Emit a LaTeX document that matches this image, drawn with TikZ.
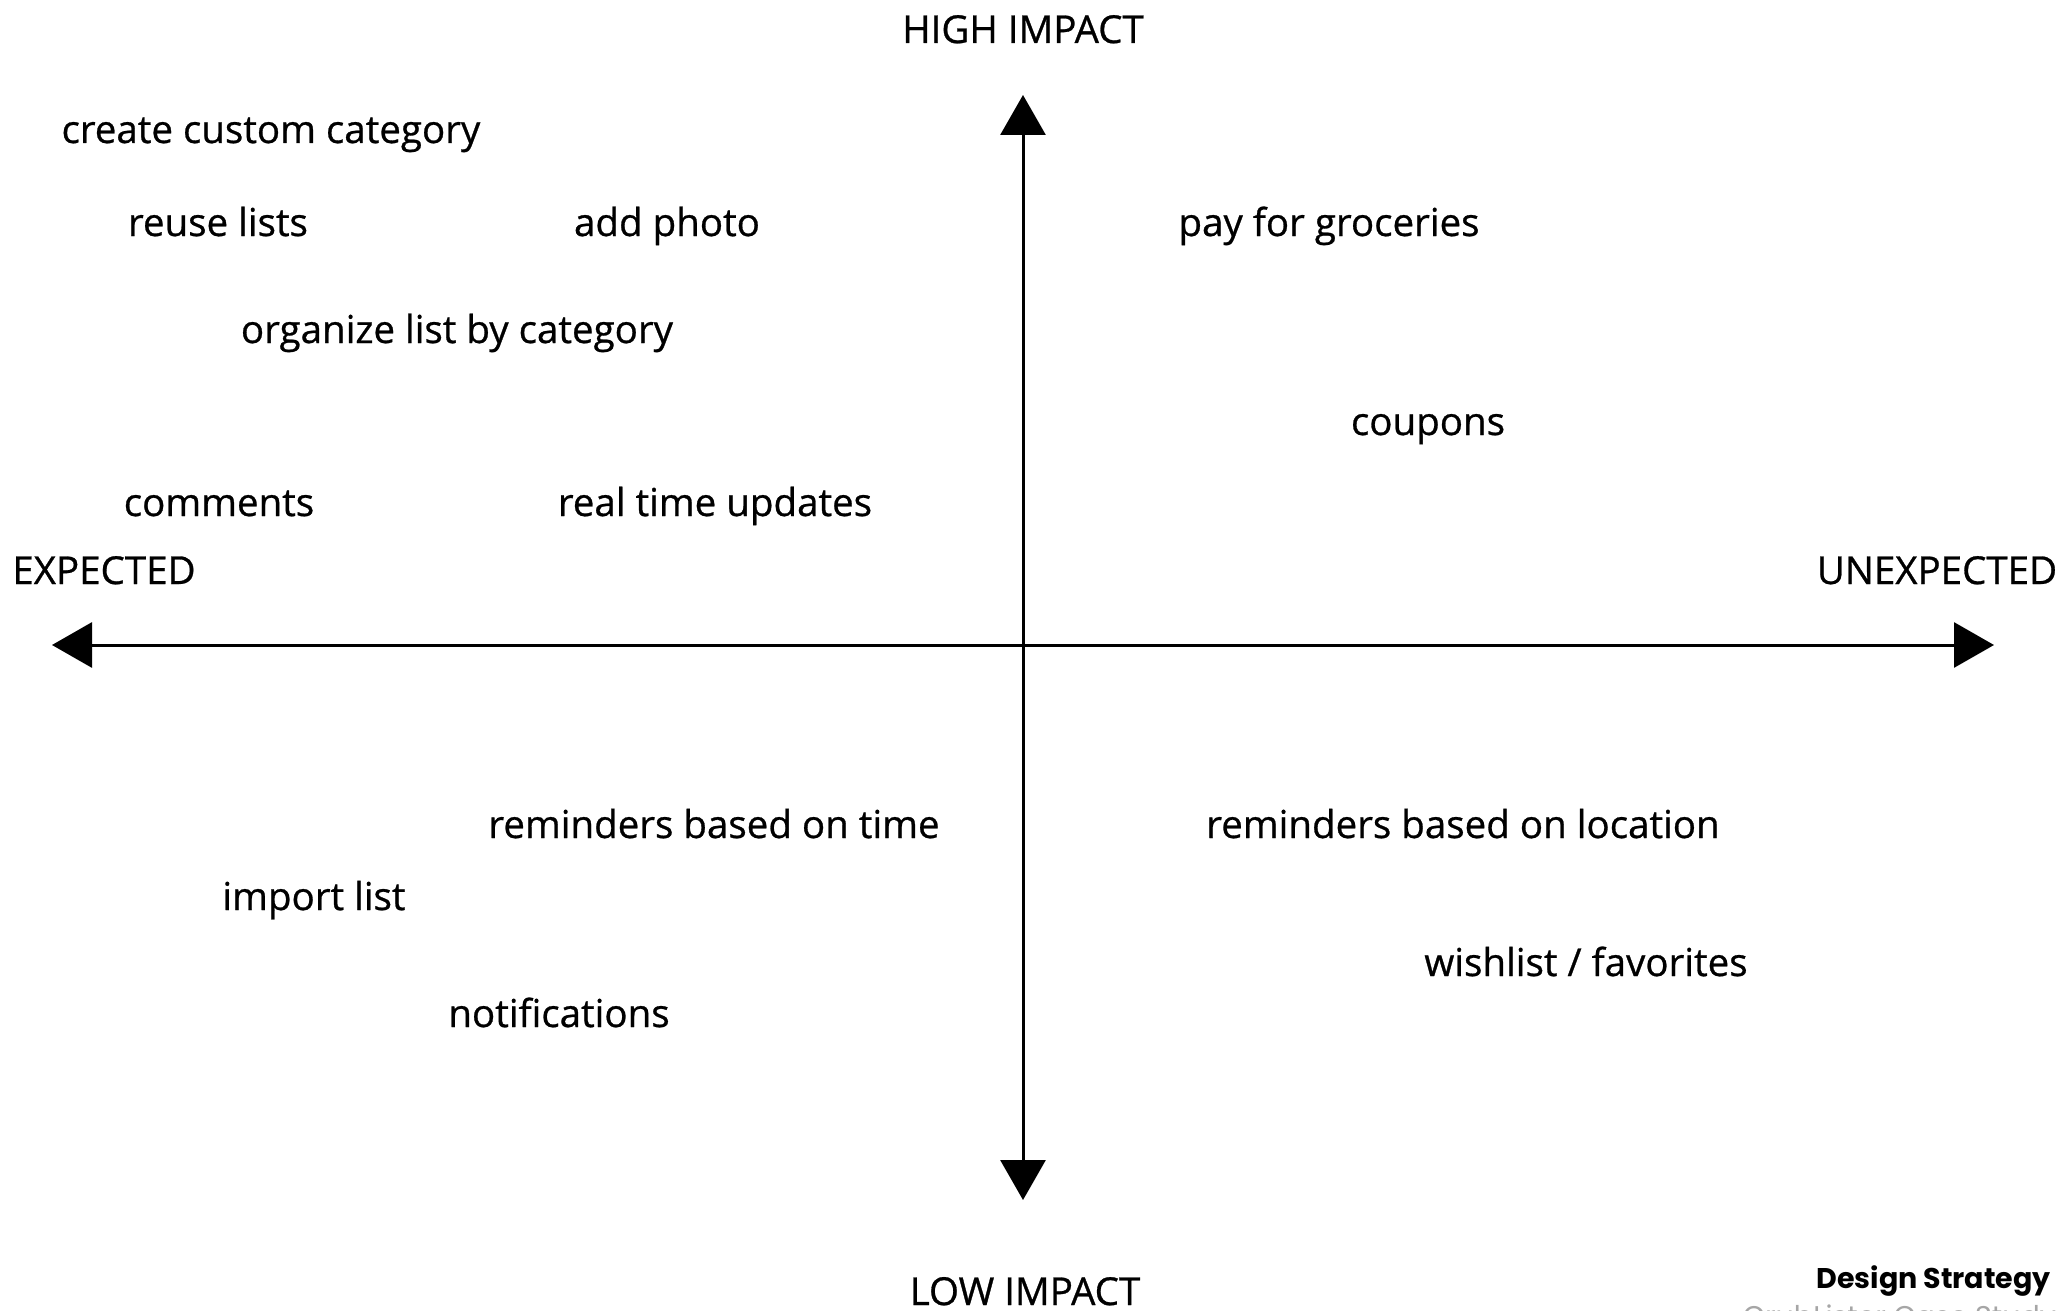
\documentclass[tikz,border=0pt]{standalone}
\usepackage{fontspec}
\setmainfont{Open Sans}
\newfontfamily\lblfont{Open Sans}[FakeBold=0.7]
\newfontfamily\dsfont{Poppins}
\usetikzlibrary{arrows.meta}
\begin{document}
\begin{tikzpicture}[x=1pt,y=-1pt,
  lbl/.style={anchor=base,inner sep=0pt,font=\lblfont\fontsize{38.5}{44}\selectfont\addfontfeatures{FakeBold=0.7}},
  axis/.style={line width=3pt,{Triangle[width=45pt,length=40pt]}-{Triangle[width=45pt,length=40pt]}}]
\useasboundingbox[fill=white] (0,0) rectangle (2062,1311);
\coordinate (L) at (52,645);
\coordinate (R) at (1994,645);
\coordinate (T) at (1023,95);
\coordinate (B) at (1023,1200);
\draw[axis] (L) -- (R);
\draw[axis] (T) -- (B);
\node[lbl] (hi) at (1023,43) {HIGH IMPACT};
\node[lbl] (lo) at (1025,1305) {LOW IMPACT};
\node[lbl] (ex) at (104,584) {EXPECTED};
\node[lbl] (ux) at (1937,584) {UNEXPECTED};
\node[lbl] (n1) at (271,143) {create custom category};
\node[lbl] (n2) at (218,236) {reuse lists};
\node[lbl] (n3) at (667,236) {add photo};
\node[lbl] (n4) at (1329,236) {pay for groceries};
\node[lbl] (n5) at (457,343) {organize list by category};
\node[lbl] (n6) at (1428,435) {coupons};
\node[lbl] (n7) at (219,516) {comments};
\node[lbl] (n8) at (715,516) {real time updates};
\node[lbl] (n9) at (714,838) {reminders based on time};
\node[lbl] (n10) at (1463,838) {reminders based on location};
\node[lbl] (n11) at (314,910) {import list};
\node[lbl] (n12) at (1586,976) {wishlist / favorites};
\node[lbl] (n13) at (559,1027) {notifications};
\node[anchor=base east,inner sep=0pt,font=\dsfont\bfseries\fontsize{28.5}{32}\selectfont] (ds) at (2051,1288) {Design Strategy};
\node[anchor=base east,inner sep=0pt,text=black!35,font=\dsfont\fontsize{28.5}{32}\selectfont] (cs) at (2056,1326) {GrubLister Case Study};
\end{tikzpicture}
\end{document}
